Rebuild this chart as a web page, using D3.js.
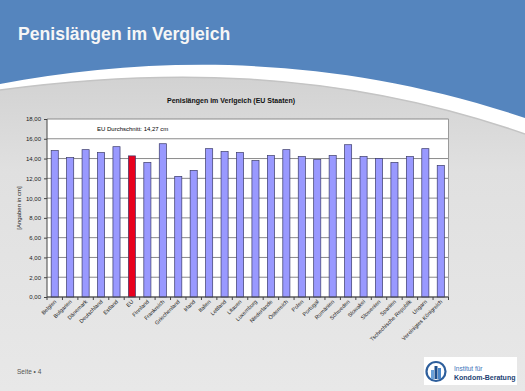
<!DOCTYPE html>
<html>
<head>
<meta charset="utf-8">
<script src="https://cdn.jsdelivr.net/npm/d3@7"></script>
<style>
  html, body { margin: 0; padding: 0; background: #e4e4e4; }
  svg { display: block; font-family: "Liberation Sans", Arial, sans-serif; }
</style>
</head>
<body>
<script>
var slideTitle = "Penislängen im Vergleich";
var chartTitle = "Penislängen im Verlgeich (EU Staaten)";
var avgLabel = "EU Durchschnitt: 14,27 cm";
var yTitle = "[Angaben in cm]";
var footer = "Seite \u2022 4";

var countries = ["Belgien", "Bulgarien", "Dänemark", "Deutschland", "Estland", "EU",
  "Finnland", "Frankreich", "Griechenland", "Irland", "Italien", "Lettland", "Litauen",
  "Luxemburg", "Niederlande", "Österreich", "Polen", "Portugal", "Rumänien", "Schweden",
  "Slowakei", "Slowenien", "Spanien", "Tschechische Republik", "Ungarn",
  "Vereinigtes Königreich"];
var lengths = [14.8, 14.1, 14.9, 14.6, 15.2, 14.27, 13.6, 15.5, 12.2, 12.8, 15.0, 14.7,
  14.6, 13.8, 14.3, 14.9, 14.2, 13.9, 14.3, 15.4, 14.2, 14.0, 13.6, 14.2, 15.0, 13.3];
var yTicks = [0, 2, 4, 6, 8, 10, 12, 14, 16, 18];

var W = 525, H = 391;
var margin = {top: 119, right: 76.5, bottom: 94, left: 47},
  width = W - margin.left - margin.right,
  height = H - margin.top - margin.bottom;

var svg = d3.select("body").append("svg")
  .attr("width", W)
  .attr("height", H);

var defs = svg.append("defs");
var bg = defs.append("linearGradient").attr("id", "bgGrad")
  .attr("x1", 0).attr("y1", 0).attr("x2", 0).attr("y2", 1);
bg.append("stop").attr("offset", "0%").attr("stop-color", "#d2d2d2");
bg.append("stop").attr("offset", "30%").attr("stop-color", "#e0e0e0");
bg.append("stop").attr("offset", "100%").attr("stop-color", "#e8e8e8");

// slide background
svg.append("rect").attr("width", W).attr("height", H).attr("fill", "#ffffff");
svg.append("path")
  .attr("d", "M0,0 H525 V118 C330,52 150,56 0,84 Z")
  .attr("fill", "#5585be");
svg.append("path")
  .attr("d", "M0,90 C150,70 330,66 525,134 V391 H0 Z")
  .attr("fill", "url(#bgGrad)");
svg.append("path")
  .attr("d", "M0,90 C150,70 330,66 525,134")
  .attr("fill", "none").attr("stroke", "#c4c4c4").attr("stroke-width", 1.5);

svg.append("text")
  .attr("x", 18).attr("y", 40)
  .attr("fill", "#f6f6f6")
  .attr("font-size", 17.6).attr("font-weight", "bold")
  .text(slideTitle);

svg.append("text")
  .attr("x", 231).attr("y", 103)
  .attr("text-anchor", "middle")
  .attr("font-size", 7).attr("font-weight", "bold")
  .attr("fill", "#111")
  .text(chartTitle);

var g = svg.append("g")
  .attr("transform", "translate(" + margin.left + "," + margin.top + ")");

var x = d3.scaleBand().domain(countries).range([0, width]).paddingInner(0.54).paddingOuter(0.27);
var y = d3.scaleLinear().domain([0, 18]).range([height, 0]);

g.append("rect").attr("width", width).attr("height", height).attr("fill", "#ffffff");

g.selectAll(".grid").data(yTicks).enter().append("line")
  .attr("x1", 0).attr("x2", width)
  .attr("y1", function(d) { return y(d); })
  .attr("y2", function(d) { return y(d); })
  .attr("stroke", "#8a8a8a").attr("stroke-width", 1);

g.append("line").attr("x1", width).attr("x2", width).attr("y1", 0).attr("y2", height)
  .attr("stroke", "#9a9a9a");

g.append("text")
  .attr("x", 50).attr("y", y(17) + 2)
  .attr("font-size", 6).attr("fill", "#000")
  .text(avgLabel);

g.selectAll(".bar").data(lengths).enter().append("rect")
  .attr("x", function(d, i) { return x(countries[i]); })
  .attr("y", function(d) { return y(d); })
  .attr("width", x.bandwidth())
  .attr("height", function(d) { return height - y(d); })
  .attr("fill", function(d, i) { return countries[i] === "EU" ? "#e8001e" : "#9999ff"; })
  .attr("stroke", "#3a3a6a").attr("stroke-width", 0.7);

var yAxis = d3.axisLeft(y).tickValues(yTicks).tickSize(3)
  .tickFormat(function(d) { return d3.format(".2f")(d).replace(".", ","); });
var ya = g.append("g").call(yAxis);
ya.select(".domain").attr("stroke", "#444").attr("d", "M0,0V" + height);
ya.selectAll(".tick line").attr("stroke", "#444");
ya.selectAll("text").attr("font-size", 6).attr("fill", "#222").attr("font-family", null);

var step = x.step();
var xa = g.append("g").attr("transform", "translate(0," + height + ")");
xa.append("line").attr("x1", 0).attr("x2", width).attr("stroke", "#444");
xa.selectAll(".xt").data(d3.range(countries.length + 1)).enter().append("line")
  .attr("x1", function(i) { return i * step; })
  .attr("x2", function(i) { return i * step; })
  .attr("y1", 0).attr("y2", 3)
  .attr("stroke", "#444");
xa.selectAll(".xl").data(countries).enter().append("text")
  .attr("transform", function(d) {
    return "translate(" + (x(d) + x.bandwidth() / 2 + 2) + ",5) rotate(-45)";
  })
  .attr("text-anchor", "end")
  .attr("font-size", 5.5).attr("fill", "#222")
  .text(function(d) { return d; });

svg.append("text")
  .attr("transform", "translate(21," + (margin.top + height / 2) + ") rotate(-90)")
  .attr("text-anchor", "middle")
  .attr("font-size", 6).attr("fill", "#222")
  .text(yTitle);

svg.append("text")
  .attr("x", 17).attr("y", 374)
  .attr("font-size", 6.5).attr("fill", "#555")
  .text(footer);

// logo box
var logo = svg.append("g");
logo.append("rect").attr("x", 424).attr("y", 357).attr("width", 93).attr("height", 28)
  .attr("fill", "#ffffff");
logo.append("circle").attr("cx", 436).attr("cy", 371.5).attr("r", 9.5)
  .attr("fill", "none").attr("stroke", "#2e5f9c").attr("stroke-width", 2.2);
logo.append("rect").attr("x", 431).attr("y", 370).attr("width", 3).attr("height", 9).attr("fill", "#6aa0d8");
logo.append("rect").attr("x", 434.5).attr("y", 366).attr("width", 3).attr("height", 13).attr("fill", "#1f4f8c");
logo.append("rect").attr("x", 438).attr("y", 368).attr("width", 3).attr("height", 11).attr("fill", "#4a86c8");
logo.append("text").attr("x", 454).attr("y", 370.5)
  .attr("font-size", 6.5).attr("fill", "#3a72b8").text("Institut für");
logo.append("text").attr("x", 454).attr("y", 380)
  .attr("font-size", 7).attr("font-weight", "bold").attr("fill", "#1d3f73").text("Kondom-Beratung");
</script>
</body>
</html>
